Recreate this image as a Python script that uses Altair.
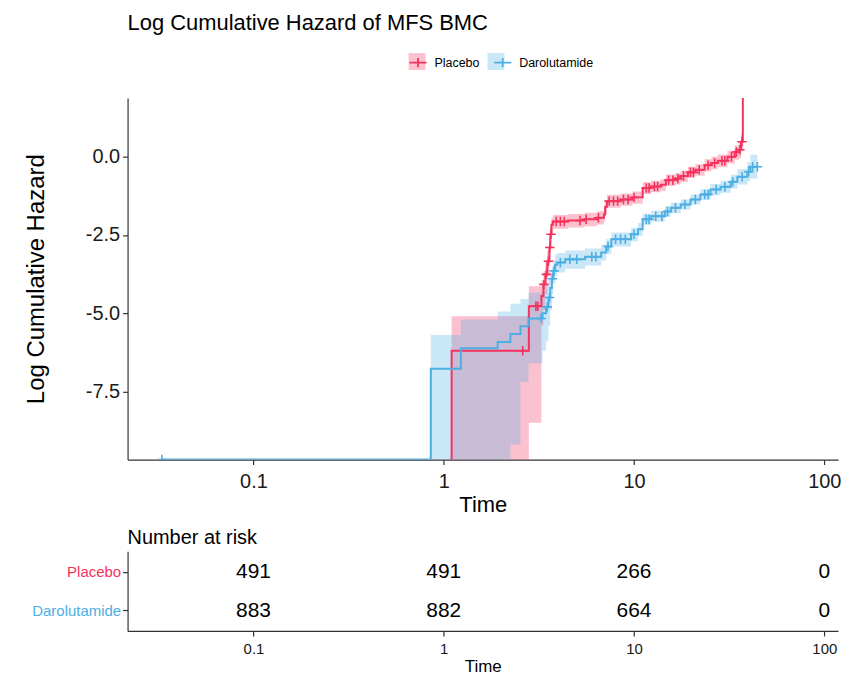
import altair as alt
import pandas as pd

PINK = "#F5325E"
BLUE = "#4DAEE3"
groups = ["Placebo", "Darolutamide"]
FONT = "Liberation Sans"

# ---- Placebo step curve (time, log cumulative hazard, CI) ----
p_time = [1.00, 1.10, 2.80, 3.26, 3.34, 3.42, 3.50, 3.59, 3.63, 3.68, 3.75, 4.50, 5.50, 6.40,
          6.95, 7.05, 7.20, 8.50, 9.80, 11.1, 12.3, 13.8, 14.7, 16.5, 17.6, 19.2, 21.0, 23.5,
          25.5, 27.5, 31.0, 33.8, 35.5, 36.5, 37.3]
p_est = [-12, -6.20, -4.78, -4.45, -4.08, -3.76, -3.34, -2.90, -2.48, -2.17, -2.07, -2.04, -2.00,
         -1.95, -1.85, -1.60, -1.42, -1.37, -1.30, -1.00, -0.95, -0.90, -0.75, -0.70, -0.62,
         -0.50, -0.42, -0.27, -0.20, -0.13, 0.00, 0.15, 0.22, 0.48, 3.00]
p_lo = [-12, -12, -8.50, -5.40, -4.90, -4.40, -3.85, -3.30, -2.80, -2.45, -2.30, -2.26, -2.22,
        -2.17, -2.07, -1.82, -1.63, -1.57, -1.50, -1.19, -1.14, -1.09, -0.94, -0.89, -0.81,
        -0.69, -0.61, -0.47, -0.40, -0.34, -0.22, -0.10, -0.05, 0.18, 3.00]
p_up = [-12, -5.10, -4.14, -3.95, -3.65, -3.40, -3.00, -2.65, -2.25, -1.95, -1.86, -1.83, -1.79,
        -1.74, -1.64, -1.39, -1.22, -1.18, -1.11, -0.82, -0.77, -0.72, -0.57, -0.52, -0.44,
        -0.32, -0.24, -0.08, 0.00, 0.07, 0.20, 0.36, 0.45, 0.74, 3.00]

# ---- Darolutamide step curve ----
b_time = [0.033, 0.855, 1.23, 1.92, 2.24, 2.53, 2.79, 3.30, 3.45, 3.55, 3.63, 3.70, 3.76, 3.85,
          3.95, 4.35, 5.53, 6.72, 7.14, 7.60, 9.65, 10.5, 11.1, 12.3, 14.5, 15.6, 17.6, 19.8,
          22.3, 25.2, 28.5, 32.2, 34.9, 39.4, 40.9, 44.5]
b_est = [-9.68, -6.78, -6.12, -5.92, -5.67, -5.42, -5.17, -5.00, -4.80, -4.50, -4.20, -3.90,
         -3.65, -3.45, -3.38, -3.28, -3.20, -3.06, -2.87, -2.64, -2.48, -2.32, -2.00, -1.90,
         -1.75, -1.63, -1.53, -1.37, -1.21, -1.05, -0.96, -0.80, -0.64, -0.48, -0.32, -0.32]
b_lo = [-12, -12, -12, -12, -9.20, -7.20, -6.60, -6.20, -5.90, -5.40, -4.90, -4.40, -4.05, -3.80,
        -3.70, -3.58, -3.48, -3.32, -3.11, -2.87, -2.70, -2.53, -2.19, -2.08, -1.92, -1.80,
        -1.69, -1.53, -1.38, -1.23, -1.15, -1.02, -0.89, -0.78, -0.70, -0.70]
b_up = [-12, -5.70, -5.20, -4.95, -4.70, -4.55, -4.35, -4.25, -4.10, -3.90, -3.70, -3.50, -3.30,
        -3.12, -3.08, -3.00, -2.93, -2.81, -2.64, -2.42, -2.27, -2.12, -1.82, -1.73, -1.58,
        -1.47, -1.37, -1.21, -1.04, -0.87, -0.77, -0.58, -0.39, -0.18, 0.06, 0.06]

# ---- censor marks ----
pc_time = [2.60, 3.05, 3.12, 3.36, 3.46, 3.55, 3.61, 3.66, 3.90, 4.10, 4.30, 5.20, 5.60, 6.50,
           7.40, 7.80, 8.20, 8.80, 9.30, 10.0, 11.6, 12.0, 12.8, 13.3, 15.2, 16.0, 17.0, 18.2,
           19.8, 20.5, 22.0, 24.5, 26.5, 29.0, 30.0, 32.5, 34.5, 36.0, 36.9]
pc_val = [-6.20, -4.78, -4.78, -4.08, -3.76, -3.34, -2.90, -2.48, -2.07, -2.07, -2.07, -2.04,
          -2.00, -1.95, -1.42, -1.42, -1.42, -1.37, -1.37, -1.30, -1.00, -1.00, -0.95, -0.95,
          -0.75, -0.75, -0.70, -0.62, -0.50, -0.50, -0.42, -0.27, -0.20, -0.13, -0.13, 0.00,
          0.15, 0.22, 0.48]
bc_time = [0.033, 3.25, 3.50, 3.60, 3.72, 3.80, 4.10, 4.60, 5.00, 6.00, 6.30, 7.30, 8.00, 8.50,
           9.00, 10.0, 11.6, 12.0, 13.0, 14.0, 15.0, 16.5, 18.5, 21.0, 23.5, 24.5, 27.0, 30.0,
           33.0, 37.0, 40.0, 42.0, 44.5]
bc_val = [-9.68, -5.17, -4.80, -4.50, -3.90, -3.65, -3.38, -3.28, -3.28, -3.20, -3.20, -2.87,
          -2.64, -2.64, -2.64, -2.48, -2.00, -2.00, -1.90, -1.90, -1.75, -1.63, -1.53, -1.37,
          -1.21, -1.21, -1.05, -0.96, -0.80, -0.64, -0.48, -0.32, -0.32]

# ---- number at risk ----
risk_times = [0.1, 1, 10, 100]
risk_placebo = [491, 491, 266, 0]
risk_daro = [883, 882, 664, 0]

curve_df = pd.concat([
    pd.DataFrame({"time": p_time, "est": p_est, "lo": p_lo, "up": p_up, "group": "Placebo"}),
    pd.DataFrame({"time": b_time, "est": b_est, "lo": b_lo, "up": b_up, "group": "Darolutamide"}),
])
cens_df = pd.concat([
    pd.DataFrame({"time": pc_time, "val": pc_val, "group": "Placebo"}),
    pd.DataFrame({"time": bc_time, "val": bc_val, "group": "Darolutamide"}),
])
risk_df = pd.concat([
    pd.DataFrame({"time": risk_times, "n": risk_placebo, "group": "Placebo"}),
    pd.DataFrame({"time": risk_times, "n": risk_daro, "group": "Darolutamide"}),
])

W = 713
xscale = alt.Scale(type="log", domain=[0.0218, 118], nice=False)
yscale = alt.Scale(domain=[-9.68, 1.88], nice=False, zero=False)

axis_common = dict(grid=False, domainColor="#333333", tickColor="#333333", domainWidth=1.2,
                   tickWidth=1.2, tickSize=5, titleColor="black",
                   labelFont=FONT, titleFont=FONT, titleFontWeight="normal")

x_main = alt.X("time:Q", scale=xscale,
               axis=alt.Axis(values=[0.1, 1, 10, 100], format="~g", title="Time",
                             labelFontSize=20, titleFontSize=22, labelPadding=7,
                             titlePadding=3, labelColor="#1a1a1a", **axis_common))
y_axis = alt.Axis(values=[0, -2.5, -5, -7.5], title="Log Cumulative Hazard",
                  labelExpr="replace(format(datum.value, '.1f'), '\u2212', '-')",
                  labelFontSize=20, titleFontSize=24, titlePadding=37, labelPadding=3,
                  labelColor="#1a1a1a", **axis_common)

PLUS = "M-1,0H1M0,-1V1"
leg_common = dict(orient="none", legendX=282, legendY=-45, direction="horizontal", title=None,
                  labelFontSize=12.5, labelFont=FONT, labelColor="black", symbolSize=289,
                  padding=0)

band = alt.Chart(curve_df).mark_area(interpolate="step-after", clip=True, opacity=0.3).encode(
    x=x_main,
    y=alt.Y("lo:Q", scale=yscale, axis=y_axis),
    y2="up:Q",
    fill=alt.Fill("group:N", sort=groups, scale=alt.Scale(range=[PINK, BLUE]),
                  legend=alt.Legend(symbolType="square", symbolOpacity=0.3, labelExpr="''",
                                    labelOffset=0, columnPadding=62.2,
                                    symbolStrokeWidth=0, **leg_common)),
)

stroke_enc = alt.Stroke("group:N", scale=alt.Scale(domain=groups, range=[PINK, BLUE]),
                        legend=alt.Legend(symbolType="M-1,0H1M0,-0.55V0.55", symbolStrokeWidth=1.8,
                                          labelOffset=7, columnPadding=10, **leg_common))

lines = alt.Chart(curve_df).mark_line(interpolate="step-after", clip=True, strokeWidth=2).encode(
    x=x_main, y=alt.Y("est:Q", scale=yscale), stroke=stroke_enc,
)
marks = alt.Chart(cens_df).mark_point(shape=PLUS, size=90, strokeWidth=1.6, filled=False,
                                      clip=True, opacity=1).encode(
    x=x_main, y=alt.Y("val:Q", scale=yscale), stroke=stroke_enc,
)

main = alt.layer(band, lines, marks).properties(
    width=W, height=363,
    title=alt.TitleParams("Log Cumulative Hazard of MFS BMC", anchor="start", frame="group",
                          fontSize=22, font=FONT, fontWeight="normal", color="black", offset=63),
)

risk = alt.Chart(risk_df).mark_text(fontSize=21, font=FONT, color="black").encode(
    x=alt.X("time:Q", scale=xscale,
            axis=alt.Axis(values=[0.1, 1, 10, 100], format="~g", title="Time",
                          labelFontSize=15, titleFontSize=17, labelPadding=6, titlePadding=2,
                          labelColor="#1a1a1a", **axis_common)),
    y=alt.Y("group:N", scale=alt.Scale(type="point", domain=groups, padding=0.526),
            axis=alt.Axis(title=None, labelFontSize=15, labelPadding=2,
                          labelColor={"expr": f"datum.value == 'Placebo' ? '{PINK}' : '{BLUE}'"},
                          **axis_common)),
    text="n:Q",
).properties(
    width=W, height=80,
    title=alt.TitleParams("Number at risk", anchor="start", frame="group", fontSize=20,
                          font=FONT, fontWeight="normal", color="black", offset=3),
)

chart = alt.vconcat(main, risk, spacing=13).properties(
    padding={"left": 16, "top": 3, "right": 0, "bottom": 0}
).configure_view(stroke=None)

chart.save("out.html", embed_options={"renderer": "svg", "actions": False})
